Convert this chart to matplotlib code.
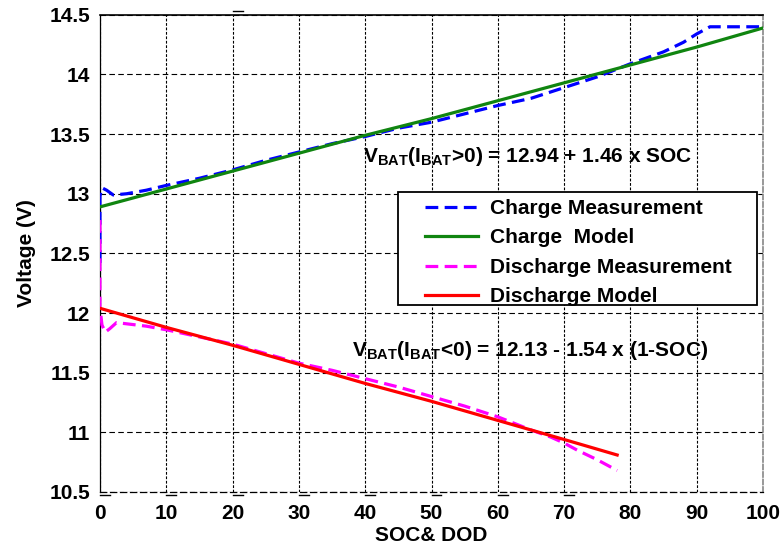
import matplotlib
matplotlib.use("Agg")
import matplotlib.pyplot as plt
import matplotlib.transforms as mtransforms
from matplotlib.patches import Rectangle

plt.rcParams['font.family'] = ['Liberation Sans', 'DejaVu Sans']
plt.rcParams['font.weight'] = 'bold'
plt.rcParams['mathtext.fontset'] = 'custom'
plt.rcParams['mathtext.rm'] = 'Liberation Sans:bold'
plt.rcParams['mathtext.bf'] = 'Liberation Sans:bold'
plt.rcParams['mathtext.it'] = 'Liberation Sans:bold'

# charge measurement (SOC in %, voltage in V)
charge_meas_soc = [0, 0, 0.3, 1, 2, 4, 7, 10, 15, 20, 25, 30, 35, 40, 45, 50,
                   55, 60, 65, 70, 75, 80, 85, 88, 90, 92, 100]
charge_meas_v = [12.42, 12.98, 13.05, 13.03, 12.99, 13.0, 13.03, 13.07, 13.13,
                 13.2, 13.28, 13.35, 13.42, 13.48, 13.55, 13.6, 13.67, 13.74,
                 13.8, 13.89, 13.98, 14.09, 14.19, 14.27, 14.34, 14.40, 14.40]

# charge model
charge_model_soc = [0, 10, 20, 30, 40, 50, 60, 70, 80, 90, 100]
charge_model_v = [12.89, 13.04, 13.19, 13.34, 13.49, 13.63, 13.78, 13.93,
                  14.08, 14.23, 14.39]

# discharge measurement (DOD in %)
dis_meas_dod = [0, 0, 0.3, 0.8, 1.5, 2.5, 4, 7, 10, 15, 20, 25, 30, 35, 40,
                45, 50, 55, 60, 65, 68, 70, 72, 75, 78]
dis_meas_v = [12.78, 12.05, 11.9, 11.84, 11.87, 11.92, 11.91, 11.89, 11.86,
              11.8, 11.74, 11.66, 11.58, 11.52, 11.45, 11.38, 11.3, 11.22,
              11.13, 11.02, 10.96, 10.91, 10.85, 10.77, 10.68]

# discharge model
dis_model_dod = [0, 10, 20, 30, 40, 50, 60, 70, 78]
dis_model_v = [12.04, 11.88, 11.73, 11.57, 11.41, 11.26, 11.10, 10.94, 10.81]

xticks = [0, 10, 20, 30, 40, 50, 60, 70, 80, 90, 100]
yticks = [10.5, 11, 11.5, 12, 12.5, 13, 13.5, 14, 14.5]
ytick_labels = ['10.5', '11', '11.5', '12', '12.5', '13', '13.5', '14', '14.5']

fig = plt.figure(figsize=(7.81, 5.5), dpi=100)
ax = fig.add_axes([0.128, 0.1055, 0.849, 0.8675])

lw = 2.3
ax.plot(charge_meas_soc, charge_meas_v, color='#0000ff', lw=lw,
        dashes=(4, 2), label='Charge Measurement', zorder=3)
ax.plot(charge_model_soc, charge_model_v, color='#108510', lw=lw,
        label='Charge  Model', zorder=4)
ax.plot(dis_meas_dod, dis_meas_v, color='#ff00ff', lw=lw,
        dashes=(4, 2), label='Discharge Measurement', zorder=3)
ax.plot(dis_model_dod, dis_model_v, color='#ff0000', lw=lw,
        label='Discharge Model', zorder=4)

ax.set_xlim(0, 100)
ax.set_ylim(10.5, 14.5)
ax.set_xticks(xticks)
ax.set_yticks(yticks)
ax.set_yticklabels(ytick_labels)
ax.tick_params(length=0, labelsize=15, pad=7)
ax.tick_params(axis='x', pad=9)

ax.xaxis.grid(True, color='black', linestyle=(0, (2.5, 1.5)), lw=0.8)
ax.yaxis.grid(True, color='black', linestyle=(0, (5, 3)), lw=0.8)
ax.set_axisbelow(True)

ax.spines['top'].set_linewidth(1.2)
ax.spines['left'].set_linestyle((0, (1.5, 1)))
ax.spines['left'].set_linewidth(0.9)
ax.spines['bottom'].set_linestyle((0, (5, 3)))
ax.spines['bottom'].set_linewidth(0.9)
ax.spines['right'].set_linestyle((0, (3, 1.5)))
ax.spines['right'].set_color('#888888')
ax.spines['right'].set_linewidth(1.2)

# small stray tick dashes outside the frame
trans_b = mtransforms.blended_transform_factory(ax.transData, ax.transAxes)
for xv in xticks[:8]:
    ax.plot([xv, xv + 1.5], [-0.007, -0.007], color='black', lw=1,
            transform=trans_b, clip_on=False)
ax.plot([20, 21.5], [1.009, 1.009], color='black', lw=1,
        transform=trans_b, clip_on=False)

ax.set_xlabel('SOC& DOD', fontsize=15, fontweight='bold', labelpad=2)
ax.set_ylabel('Voltage (V)', fontsize=15, fontweight='bold', labelpad=10)

ax.text(39.7, 13.31, r'V$_\mathregular{BAT}$(I$_\mathregular{BAT}$>0) = 12.94 + 1.46 x SOC',
        fontsize=15, va='center', ha='left')
ax.text(38.0, 11.69, r'V$_\mathregular{BAT}$(I$_\mathregular{BAT}$<0) = 12.13 - 1.54 x (1-SOC)',
        fontsize=15, va='center', ha='left')

# legend frame drawn separately, legend entries placed inside it
ax.add_patch(Rectangle((0.4495, 0.392), 0.5415, 0.237, transform=ax.transAxes,
                       facecolor='white', edgecolor='black', lw=1.3, zorder=5))
leg = ax.legend(loc='upper left', bbox_to_anchor=(0.490, 0.614),
                borderaxespad=0, fontsize=15, handlelength=2.55,
                labelspacing=0.5, frameon=False, borderpad=0,
                handletextpad=0.6)
leg.set_zorder(6)
for t in leg.get_texts():
    t.set_fontweight('bold')

fig.savefig('out.png', dpi=100)
